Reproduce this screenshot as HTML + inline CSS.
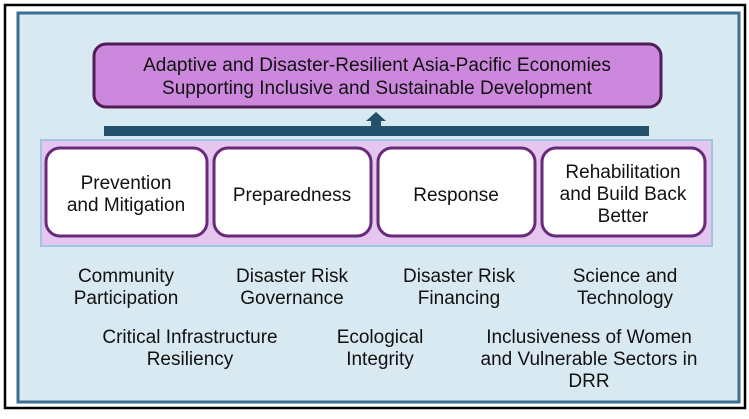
<!DOCTYPE html>
<html><head><meta charset="utf-8"><style>
body{margin:0;background:#fff;width:749px;height:414px;overflow:hidden}
svg text{font-family:"Liberation Sans",Arial,Helvetica,sans-serif;font-size:19px;fill:#111;text-anchor:middle}
</style></head><body>
<svg width="749" height="414" xmlns="http://www.w3.org/2000/svg">
<rect x="5" y="5" width="740" height="403" fill="#fff" stroke="#000" stroke-width="2.5"/>
<rect x="18" y="13" width="721" height="389" fill="#d9e9f2" stroke="#3c6e93" stroke-width="3"/>
<rect x="94" y="44" width="567" height="63" rx="12" fill="#cc88dd" stroke="#521c58" stroke-width="3"/>
<text x="377" y="71">Adaptive and Disaster-Resilient Asia-Pacific Economies</text>
<text x="377" y="94">Supporting Inclusive and Sustainable Development</text>
<rect x="104" y="126" width="545" height="10" fill="#23506b"/>
<polygon points="366,121 376,112 386,121 381,121 381,126 371,126 371,121" fill="#23506b"/>
<rect x="41" y="140" width="671" height="106" fill="#e4c6ef" stroke="#9ec6df" stroke-width="2"/>
<rect x="46" y="148" width="161" height="88" rx="14" fill="#fff" stroke="#6a2a7a" stroke-width="3"/>
<rect x="214" y="148" width="157" height="88" rx="14" fill="#fff" stroke="#6a2a7a" stroke-width="3"/>
<rect x="378" y="148" width="157" height="88" rx="14" fill="#fff" stroke="#6a2a7a" stroke-width="3"/>
<rect x="542" y="148" width="163" height="88" rx="14" fill="#fff" stroke="#6a2a7a" stroke-width="3"/>
<text x="126" y="189">Prevention</text><text x="126" y="211">and Mitigation</text>
<text x="292" y="201">Preparedness</text>
<text x="456" y="201">Response</text>
<text x="623" y="178">Rehabilitation</text><text x="623" y="200">and Build Back</text><text x="623" y="222">Better</text>
<text x="126" y="282">Community</text><text x="126" y="304">Participation</text>
<text x="292" y="282">Disaster Risk</text><text x="292" y="304">Governance</text>
<text x="459" y="282">Disaster Risk</text><text x="459" y="304">Financing</text>
<text x="625" y="282">Science and</text><text x="625" y="304">Technology</text>
<text x="190" y="343">Critical Infrastructure</text><text x="190" y="365">Resiliency</text>
<text x="380" y="343">Ecological</text><text x="380" y="365">Integrity</text>
<text x="589" y="343">Inclusiveness of Women</text><text x="589" y="365">and Vulnerable Sectors in</text><text x="589" y="387">DRR</text>
</svg>
</body></html>
